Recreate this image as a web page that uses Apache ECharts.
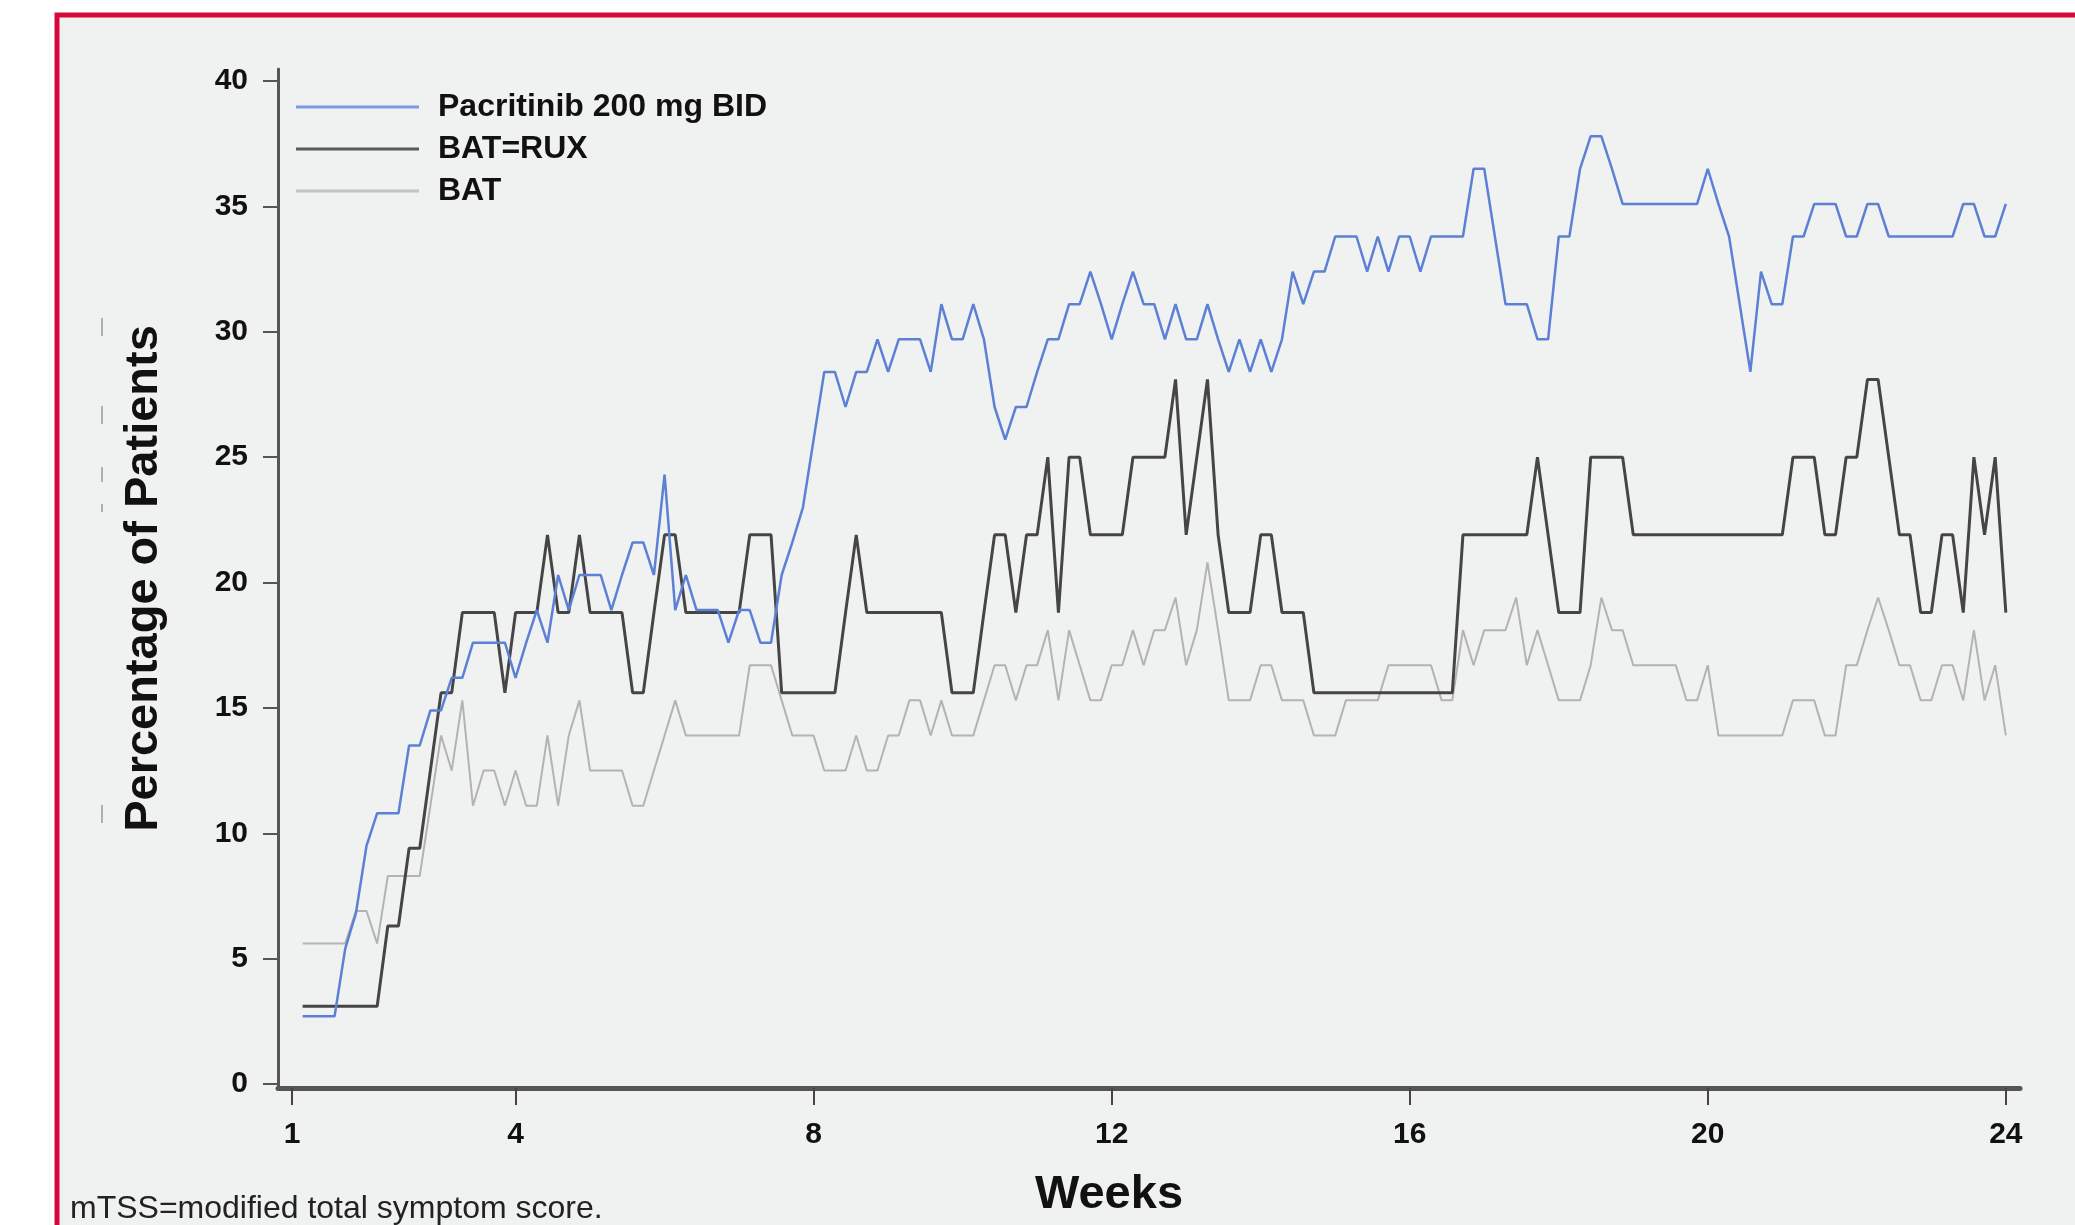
<!DOCTYPE html>
<html>
<head>
<meta charset="utf-8">
<script src="https://cdn.jsdelivr.net/npm/echarts@6/dist/echarts.min.js"></script>
<style>
  html, body { margin: 0; padding: 0; background: #ffffff; }
  #chart { width: 2075px; height: 1225px; }
</style>
</head>
<body>
<div id="chart"></div>
<script>
// Daily observations start on day 8 (week 1 = day 7) and run to day 168 (week 24).
const firstDay = 8;
const daysPerWeek = 7;

const weekTicks = [1, 4, 8, 12, 16, 20, 24];
const percentTicks = [0, 5, 10, 15, 20, 25, 30, 35, 40];
const seriesNames = ['Pacritinib 200 mg BID', 'BAT=RUX', 'BAT'];

// Percentage of patients, one value per day
const pacritinib = [
  2.7, 2.7, 2.7, 2.7, 5.4, 6.8, 9.5, 10.8, 10.8, 10.8,
  13.5, 13.5, 14.9, 14.9, 16.2, 16.2, 17.6, 17.6, 17.6, 17.6,
  16.2, 17.6, 18.9, 17.6, 20.3, 18.9, 20.3, 20.3, 20.3, 18.9,
  20.3, 21.6, 21.6, 20.3, 24.3, 18.9, 20.3, 18.9, 18.9, 18.9,
  17.6, 18.9, 18.9, 17.6, 17.6, 20.3, 21.6, 23.0, 25.7, 28.4,
  28.4, 27.0, 28.4, 28.4, 29.7, 28.4, 29.7, 29.7, 29.7, 28.4,
  31.1, 29.7, 29.7, 31.1, 29.7, 27.0, 25.7, 27.0, 27.0, 28.4,
  29.7, 29.7, 31.1, 31.1, 32.4, 31.1, 29.7, 31.1, 32.4, 31.1,
  31.1, 29.7, 31.1, 29.7, 29.7, 31.1, 29.7, 28.4, 29.7, 28.4,
  29.7, 28.4, 29.7, 32.4, 31.1, 32.4, 32.4, 33.8, 33.8, 33.8,
  32.4, 33.8, 32.4, 33.8, 33.8, 32.4, 33.8, 33.8, 33.8, 33.8,
  36.5, 36.5, 33.8, 31.1, 31.1, 31.1, 29.7, 29.7, 33.8, 33.8,
  36.5, 37.8, 37.8, 36.5, 35.1, 35.1, 35.1, 35.1, 35.1, 35.1,
  35.1, 35.1, 36.5, 35.1, 33.8, 31.1, 28.4, 32.4, 31.1, 31.1,
  33.8, 33.8, 35.1, 35.1, 35.1, 33.8, 33.8, 35.1, 35.1, 33.8,
  33.8, 33.8, 33.8, 33.8, 33.8, 33.8, 35.1, 35.1, 33.8, 33.8,
  35.1
];

const batRux = [
  3.1, 3.1, 3.1, 3.1, 3.1, 3.1, 3.1, 3.1, 6.3, 6.3,
  9.4, 9.4, 12.5, 15.6, 15.6, 18.8, 18.8, 18.8, 18.8, 15.6,
  18.8, 18.8, 18.8, 21.9, 18.8, 18.8, 21.9, 18.8, 18.8, 18.8,
  18.8, 15.6, 15.6, 18.8, 21.9, 21.9, 18.8, 18.8, 18.8, 18.8,
  18.8, 18.8, 21.9, 21.9, 21.9, 15.6, 15.6, 15.6, 15.6, 15.6,
  15.6, 18.8, 21.9, 18.8, 18.8, 18.8, 18.8, 18.8, 18.8, 18.8,
  18.8, 15.6, 15.6, 15.6, 18.8, 21.9, 21.9, 18.8, 21.9, 21.9,
  25.0, 18.8, 25.0, 25.0, 21.9, 21.9, 21.9, 21.9, 25.0, 25.0,
  25.0, 25.0, 28.1, 21.9, 25.0, 28.1, 21.9, 18.8, 18.8, 18.8,
  21.9, 21.9, 18.8, 18.8, 18.8, 15.6, 15.6, 15.6, 15.6, 15.6,
  15.6, 15.6, 15.6, 15.6, 15.6, 15.6, 15.6, 15.6, 15.6, 21.9,
  21.9, 21.9, 21.9, 21.9, 21.9, 21.9, 25.0, 21.9, 18.8, 18.8,
  18.8, 25.0, 25.0, 25.0, 25.0, 21.9, 21.9, 21.9, 21.9, 21.9,
  21.9, 21.9, 21.9, 21.9, 21.9, 21.9, 21.9, 21.9, 21.9, 21.9,
  25.0, 25.0, 25.0, 21.9, 21.9, 25.0, 25.0, 28.1, 28.1, 25.0,
  21.9, 21.9, 18.8, 18.8, 21.9, 21.9, 18.8, 25.0, 21.9, 25.0,
  18.8
];

const bat = [
  5.6, 5.6, 5.6, 5.6, 5.6, 6.9, 6.9, 5.6, 8.3, 8.3,
  8.3, 8.3, 11.1, 13.9, 12.5, 15.3, 11.1, 12.5, 12.5, 11.1,
  12.5, 11.1, 11.1, 13.9, 11.1, 13.9, 15.3, 12.5, 12.5, 12.5,
  12.5, 11.1, 11.1, 12.5, 13.9, 15.3, 13.9, 13.9, 13.9, 13.9,
  13.9, 13.9, 16.7, 16.7, 16.7, 15.3, 13.9, 13.9, 13.9, 12.5,
  12.5, 12.5, 13.9, 12.5, 12.5, 13.9, 13.9, 15.3, 15.3, 13.9,
  15.3, 13.9, 13.9, 13.9, 15.3, 16.7, 16.7, 15.3, 16.7, 16.7,
  18.1, 15.3, 18.1, 16.7, 15.3, 15.3, 16.7, 16.7, 18.1, 16.7,
  18.1, 18.1, 19.4, 16.7, 18.1, 20.8, 18.1, 15.3, 15.3, 15.3,
  16.7, 16.7, 15.3, 15.3, 15.3, 13.9, 13.9, 13.9, 15.3, 15.3,
  15.3, 15.3, 16.7, 16.7, 16.7, 16.7, 16.7, 15.3, 15.3, 18.1,
  16.7, 18.1, 18.1, 18.1, 19.4, 16.7, 18.1, 16.7, 15.3, 15.3,
  15.3, 16.7, 19.4, 18.1, 18.1, 16.7, 16.7, 16.7, 16.7, 16.7,
  15.3, 15.3, 16.7, 13.9, 13.9, 13.9, 13.9, 13.9, 13.9, 13.9,
  15.3, 15.3, 15.3, 13.9, 13.9, 16.7, 16.7, 18.1, 19.4, 18.1,
  16.7, 16.7, 15.3, 15.3, 16.7, 16.7, 15.3, 18.1, 15.3, 16.7,
  13.9
];

// Pair each daily value with its position in weeks
function toWeekPoints(values) {
  return values.map((v, i) => [(firstDay + i) / daysPerWeek, v]);
}

const FONT = '"Liberation Sans", Arial, Helvetica, sans-serif';
const INK = '#111111';

const chart = echarts.init(document.getElementById('chart'), null, { renderer: 'canvas' });

chart.setOption({
  animation: false,
  backgroundColor: '#ffffff',
  textStyle: { fontFamily: FONT },
  graphic: [
    // panel with red frame
    {
      type: 'rect', z: -10,
      shape: { x: 57, y: 15, width: 2100, height: 1300 },
      style: { fill: '#f0f1f1', stroke: '#d6083b', lineWidth: 5 }
    },
    // faint marks left of the vertical title
    { type: 'line', z: -5, shape: { x1: 102, y1: 318, x2: 102, y2: 336 }, style: { stroke: '#9a9a9a', lineWidth: 1.5 } },
    { type: 'line', z: -5, shape: { x1: 102, y1: 406, x2: 102, y2: 424 }, style: { stroke: '#9a9a9a', lineWidth: 1.5 } },
    { type: 'line', z: -5, shape: { x1: 102, y1: 467, x2: 102, y2: 482 }, style: { stroke: '#9a9a9a', lineWidth: 1.5 } },
    { type: 'line', z: -5, shape: { x1: 102, y1: 504, x2: 102, y2: 512 }, style: { stroke: '#9a9a9a', lineWidth: 1.5 } },
    { type: 'line', z: -5, shape: { x1: 102, y1: 805, x2: 102, y2: 823 }, style: { stroke: '#9a9a9a', lineWidth: 1.5 } },
    {
      type: 'text', left: 70, top: 1193,
      style: { text: 'mTSS=modified total symptom score.', font: '32px ' + FONT, fill: '#222222' }
    }
  ],
  grid: { left: 278, right: 55, top: 69, bottom: 137 },
  legend: {
    orient: 'vertical',
    left: 291,
    top: 86,
    icon: 'rect',
    data: [
      { name: seriesNames[0], itemStyle: { color: '#7d9be0' } },
      { name: seriesNames[1], itemStyle: { color: '#5a5a5a' } },
      { name: seriesNames[2], itemStyle: { color: '#c4c4c4' } }
    ],
    itemWidth: 123,
    itemHeight: 3,
    itemGap: 10,
    textStyle: { fontSize: 32, lineHeight: 31, fontWeight: 'bold', color: INK, padding: [0, 0, 0, 14] }
  },
  xAxis: {
    type: 'value',
    min: 0.812,
    max: 24.19,
    axisLine: { show: true, onZero: false, lineStyle: { color: '#555555', width: 5 } },
    axisTick: { show: true, customValues: weekTicks, length: 17, lineStyle: { color: '#444444', width: 2 } },
    axisLabel: { customValues: weekTicks, margin: 32, fontSize: 30, fontWeight: 'bold', color: INK },
    splitLine: { show: false },
    name: 'Weeks',
    nameLocation: 'middle',
    nameGap: 84,
    nameTextStyle: { fontSize: 47, fontWeight: 'bold', color: INK, padding: [0, 80, 0, 0] }
  },
  yAxis: {
    type: 'value',
    min: -0.16,
    max: 40.48,
    axisLine: { show: true, onZero: false, lineStyle: { color: '#555555', width: 3 } },
    axisTick: { show: true, customValues: percentTicks, length: 15, lineStyle: { color: '#555555', width: 2 } },
    axisLabel: { customValues: percentTicks, margin: 30, fontSize: 30, fontWeight: 'bold', color: INK },
    splitLine: { show: false },
    name: 'Percentage of Patients',
    nameLocation: 'middle',
    nameRotate: 90,
    nameGap: 110,
    nameTextStyle: { fontSize: 47, fontWeight: 'bold', color: INK }
  },
  series: [
    {
      name: 'BAT', type: 'line', z: 2,
      data: toWeekPoints(bat), symbol: 'none',
      lineStyle: { color: '#b3b3b3', width: 2 }, itemStyle: { color: '#b3b3b3' }
    },
    {
      name: 'BAT=RUX', type: 'line', z: 3,
      data: toWeekPoints(batRux), symbol: 'none',
      lineStyle: { color: '#454545', width: 3 }, itemStyle: { color: '#454545' }
    },
    {
      name: 'Pacritinib 200 mg BID', type: 'line', z: 4,
      data: toWeekPoints(pacritinib), symbol: 'none',
      lineStyle: { color: '#5b80d6', width: 2.5 }, itemStyle: { color: '#5b80d6' }
    }
  ]
});
</script>
</body>
</html>
